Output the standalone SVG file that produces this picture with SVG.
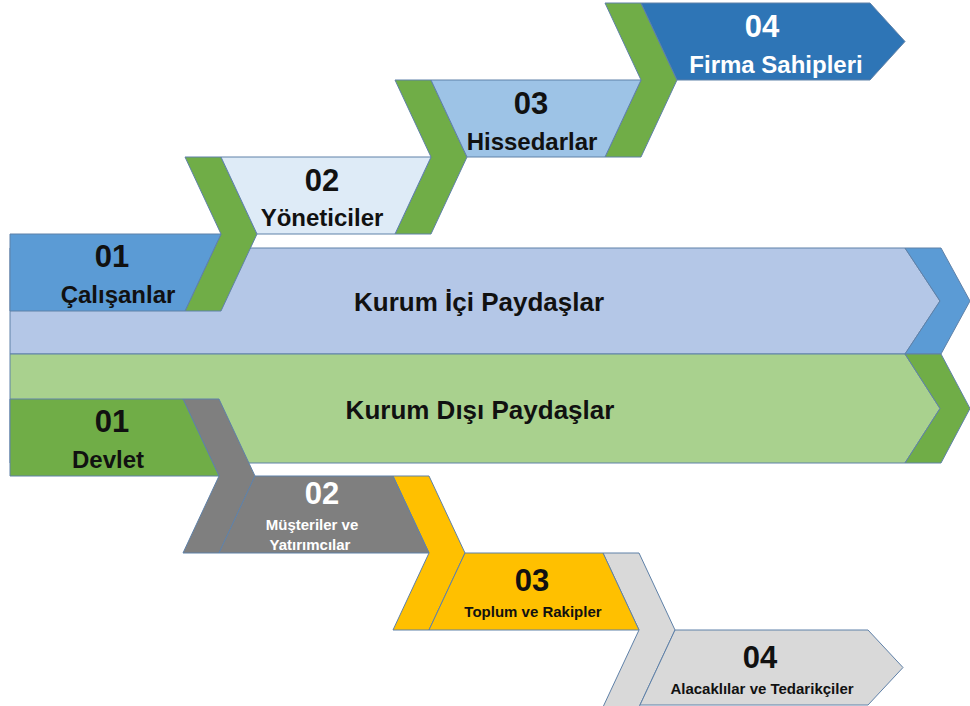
<svg xmlns="http://www.w3.org/2000/svg" width="970" height="706" viewBox="0 0 970 706">
<style>
.s{stroke:#5f81a8;stroke-width:1;stroke-linejoin:miter}
.t{font-family:"Liberation Sans",Arial,sans-serif;font-weight:bold;text-anchor:middle;fill:#111}
.n{font-size:31px}
.l{font-size:24px}
.b{font-size:26px}
.m{font-size:15px}
.w{fill:#ffffff}
</style>
<rect width="970" height="706" fill="#ffffff"/>
<g id="bars">
<g id="kurum-ici">
<polygon class="s" fill="#b4c7e7" points="10,248 905,248 940,301 905,354 10,354"/>
<polygon class="s" fill="#5b9bd5" points="905,248 941,248 970,301 941,354 905,354 940,301"/>
<text class="t b" x="479" y="311">Kurum İçi Paydaşlar</text>
</g>
<g id="kurum-disi">
<polygon class="s" fill="#a9d18e" points="10,354 905,354 940,408.5 905,463 10,463"/>
<polygon class="s" fill="#70ad47" points="905,354 941,354 970,408.5 941,463 905,463 940,408.5"/>
<text class="t b" x="480" y="419">Kurum Dışı Paydaşlar</text>
</g>
</g>
<g id="connectors">
<polygon class="s" fill="#70ad47" points="185,157 221,157 257,234 221,311 185,311 221,234"/>
<polygon class="s" fill="#70ad47" points="395,80 431,80 467,157 431,234 395,234 431,157"/>
<polygon class="s" fill="#70ad47" points="605,3 641,3 677,80 641,157 605,157 641,80"/>
<polygon class="s" fill="#7f7f7f" points="183,399 219,399 255,476 219,553 183,553 219,476"/>
<polygon class="s" fill="#ffc000" points="393,476 429,476 465,553 429,630 393,630 429,553"/>
<polygon class="s" fill="#d9d9d9" points="603,553 639,553 675,630 639,707 603,707 639,630"/>
</g>
<g id="calisanlar">
<polygon class="s" fill="#5b9bd5" points="10,234 221,234 185,311 10,311"/>
<text class="t n" x="112" y="267">01</text>
<text class="t l" x="118" y="303">Çalışanlar</text>
</g>
<g id="yoneticiler">
<polygon class="s" fill="#deebf7" points="221,157 431,157 395,234 257,234"/>
<text class="t n" x="322" y="191">02</text>
<text class="t l" x="322" y="226">Yöneticiler</text>
</g>
<g id="hissedarlar">
<polygon class="s" fill="#9dc3e6" points="431,80 641,80 605,157 467,157"/>
<text class="t n" x="531" y="114">03</text>
<text class="t l" x="532" y="150">Hissedarlar</text>
</g>
<g id="firma-sahipleri">
<polygon class="s" fill="#2e75b6" points="641,3 870,3 905,41.5 870,80 677,80"/>
<text class="t n w" x="762" y="37">04</text>
<text class="t l w" x="776" y="73">Firma Sahipleri</text>
</g>
<g id="devlet">
<polygon class="s" fill="#70ad47" points="10,399 183,399 219,476 10,476"/>
<text class="t n" x="112" y="432">01</text>
<text class="t l" x="108" y="468">Devlet</text>
</g>
<g id="musteriler">
<polygon class="s" fill="#7f7f7f" points="255,476 393,476 429,553 219,553"/>
<text class="t n w" x="322" y="504">02</text>
<text class="t m w" x="312" y="530">Müşteriler ve</text>
<text class="t m w" x="310" y="550">Yatırımcılar</text>
</g>
<g id="toplum">
<polygon class="s" fill="#ffc000" points="465,553 603,553 639,630 429,630"/>
<text class="t n" x="532" y="591">03</text>
<text class="t m" x="533" y="617">Toplum ve Rakipler</text>
</g>
<g id="alacaklilar">
<polygon class="s" fill="#d9d9d9" points="675,630 868,630 903,667.5 868,705 640,705"/>
<text class="t n" x="760" y="668">04</text>
<text class="t m" x="762" y="694">Alacaklılar ve Tedarikçiler</text>
</g>
</svg>
